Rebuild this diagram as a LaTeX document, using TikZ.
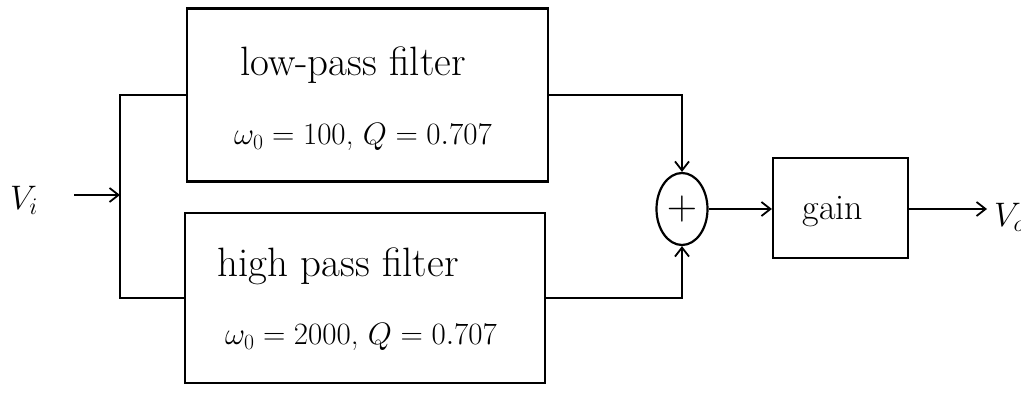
\RequirePackage{fix-cm}
\documentclass[tikz,border=0pt]{standalone}
\usetikzlibrary{arrows.meta,shapes.geometric}
\begin{document}
\begin{tikzpicture}[x=1pt,y=-1pt,
  blk/.style={draw,line width=2.2pt,inner sep=0pt},
  wire/.style={line width=2.2pt},
  arr/.style={line width=2.2pt,-{Straight Barb[length=9pt,width=14pt,line width=1.8pt]}},
  title/.style={inner sep=0pt,font=\fontsize{41}{46}\selectfont},
  param/.style={inner sep=0pt,font=\fontsize{31}{36}\selectfont},
  lbl/.style={inner sep=0pt,font=\fontsize{36}{40}\selectfont},
  sym/.style={inner sep=0pt,font=\fontsize{34}{40}\selectfont}]
\useasboundingbox (0,0) rectangle (1021,395);
% blocks
\node[blk,minimum width=361pt,minimum height=173pt] (lp) at (367.5,95) {};
\node[blk,minimum width=360pt,minimum height=170pt] (hp) at (365,298) {};
\node[blk,ellipse,minimum width=51pt,minimum height=72pt] (sum) at (682,209) {};
\node[blk,minimum width=135pt,minimum height=100pt] (gain) at (840.5,208) {};
% texts
\node[title] (lpt1) at (353,65) {low-pass filter};
\node[param] (lpt2) at (363,137) {$\omega_0 = 100$, $Q = 0.707$};
\node[title] (hpt1) at (338,266) {high pass filter};
\node[param] (hpt2) at (361,337) {$\omega_0 = 2000$, $Q = 0.707$};
\node[inner sep=0pt,font=\fontsize{42}{46}\selectfont] (plus) at (sum.center) {$+$};
\node[lbl] (gaint) at (833,212) {gain};
\node[sym,anchor=center] (vi) at (24,200) {$V_i$};
\node[sym,anchor=west] (vo) at (994,217) {$V_o$};
% connectors
\coordinate (split) at (120,195);
\coordinate (vin) at (74,195);
\coordinate (vout) at (987,209);
\draw[arr] (vin) -- (split);
\draw[wire] (split) |- (lp.west);
\draw[wire] (split) |- (hp.west);
\draw[arr] (lp.east) -| (sum.north);
\draw[arr] (hp.east) -| (sum.south);
\draw[arr] (sum.east) -- (sum.east -| gain.west);
\draw[arr] (gain.east |- vout) -- (vout);
\end{tikzpicture}
\end{document}
